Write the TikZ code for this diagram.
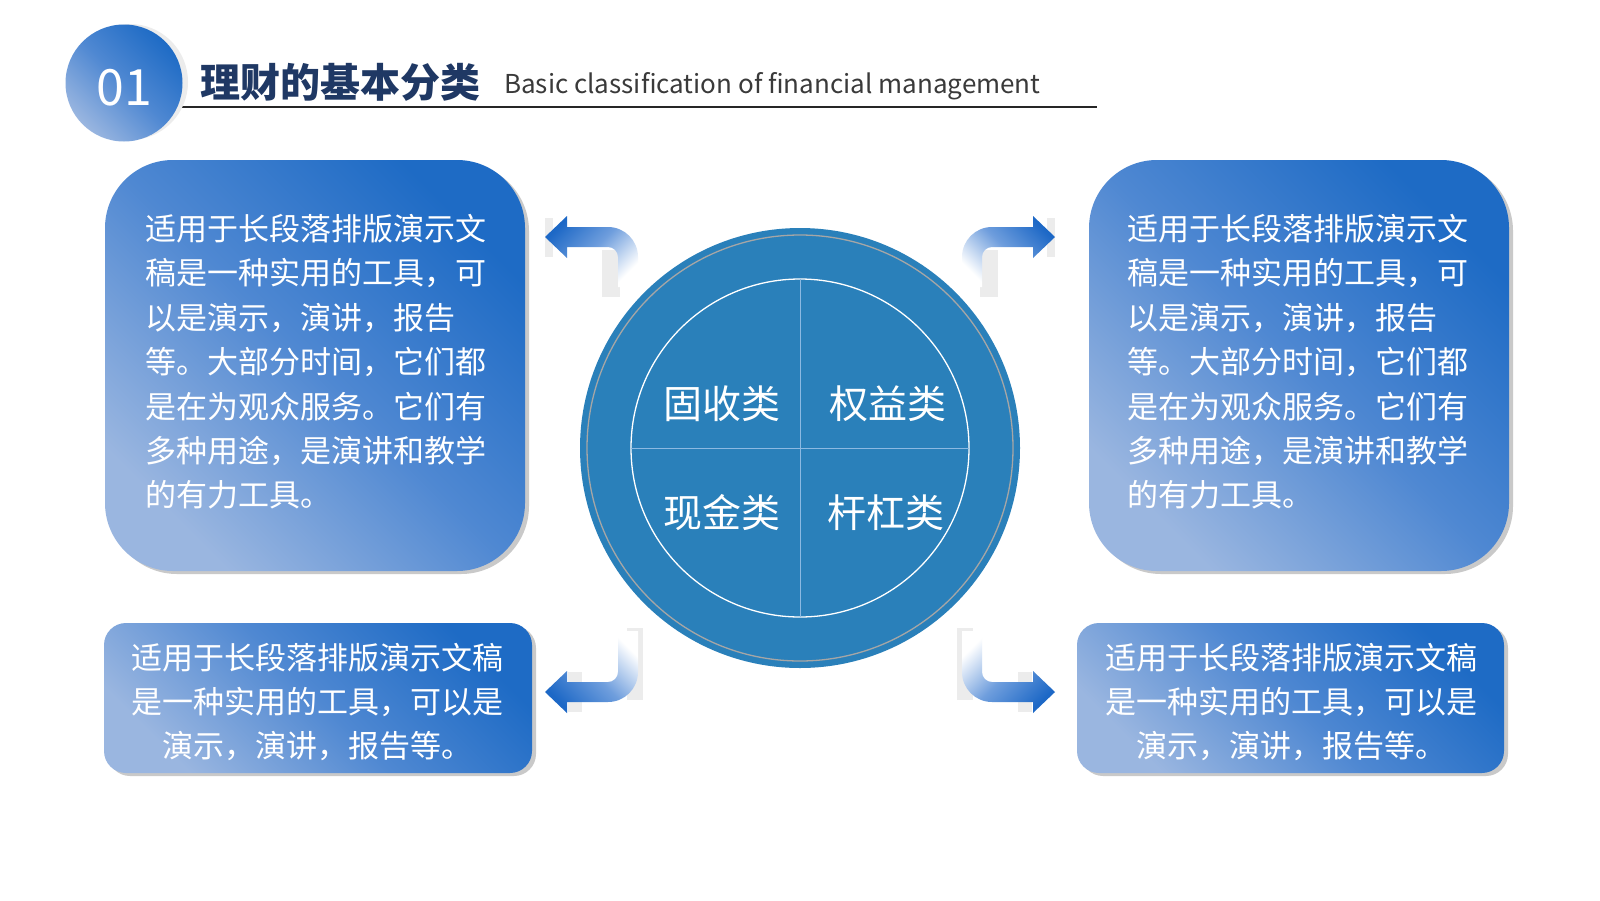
\documentclass[tikz,border=0pt]{standalone}
\usepackage{fontspec}
\setmainfont{Noto Sans CJK SC}
\usetikzlibrary{shadows}
\definecolor{cDark}{HTML}{1E6BC5}
\definecolor{cMid}{HTML}{4F88D2}
\definecolor{cLight}{HTML}{9AB6E0}
\definecolor{cCirc}{HTML}{2A80BA}
\definecolor{cCross}{HTML}{8CB9E2}
\definecolor{cNavy}{HTML}{1F3864}
\definecolor{cSub}{HTML}{3A3A3A}
\definecolor{cShadow}{HTML}{C9C9C9}
\definecolor{cBack}{HTML}{ECECEC}
\definecolor{aDark}{HTML}{1D68C6}
\definecolor{aMid}{HTML}{6F9EDD}
\begin{document}
\begin{tikzpicture}[x=1pt,y=-1pt,
  bigbox/.style={shape=rectangle, rounded corners=68pt, inner sep=0pt,
    top color=cDark, bottom color=cLight, middle color=cMid, shading angle=-45,
    general shadow={fill=cShadow, shadow xshift=4pt, shadow yshift=-3pt}},
  smallbox/.style={bigbox, rounded corners=22pt},
  para/.style={inner sep=0pt, text=white, font=\fontsize{31pt}{44.4pt}\selectfont},
  quad/.style={inner sep=0pt, text=white, font=\fontsize{39pt}{39pt}\selectfont},
  crossline/.style={draw=cCross, line width=1pt},
  backpiece/.style={fill=cBack},
  arrTL/.style={top color=aDark, bottom color=white, middle color=aMid, shading angle=45},
  arrTR/.style={top color=aDark, bottom color=white, middle color=aMid, shading angle=-45},
  arrBL/.style={top color=aDark, bottom color=white, middle color=aMid, shading angle=135},
  arrBR/.style={top color=aDark, bottom color=white, middle color=aMid, shading angle=-135},
]
\useasboundingbox (0,0) rectangle (1600,900);
\fill[white] (0,0) rectangle (1600,900);

% ---------- header ----------
\coordinate (la) at (180,107);
\coordinate (lb) at (1097,107);
\draw[line width=1.5pt, draw=black!85] (la) -- (lb);
\fill[cBack] (130,82) circle[radius=58pt];
\node[circle, minimum size=117pt, inner sep=0pt, top color=cDark, bottom color=cLight,
  middle color=cMid, shading angle=-45] (hc) at (124,83) {};
\node[anchor=base, inner sep=0pt, text=white, font=\fontsize{50pt}{50pt}\selectfont] (n01) at (124,105) {01};
\node[anchor=base west, inner sep=0pt, text=cNavy, font=\bfseries\fontsize{40pt}{40pt}\selectfont] (title) at (200,97) {理财的基本分类};
\node[anchor=base west, inner sep=0pt, text=cSub, font=\fontsize{26pt}{26pt}\selectfont] (sub) at (504,93) {Basic classification of financial management};

% ---------- boxes ----------
\node[bigbox, minimum width=420pt, minimum height=411pt] (b1) at (315,365.5) {};
\node[bigbox, minimum width=420pt, minimum height=411pt] (b2) at (1299,365.5) {};
\node[smallbox, minimum width=428pt, minimum height=150pt] (b3) at (318,698) {};
\node[smallbox, minimum width=427pt, minimum height=150pt] (b4) at (1290.5,698) {};

\node[para, align=left, anchor=north west] (t1) at (145,214) {适用于长段落排版演示文\\稿是一种实用的工具，可\\以是演示，演讲，报告\\等。大部分时间，它们都\\是在为观众服务。它们有\\多种用途，是演讲和教学\\的有力工具。};
\node[para, align=left, anchor=north west] (t2) at (1127,214) {适用于长段落排版演示文\\稿是一种实用的工具，可\\以是演示，演讲，报告\\等。大部分时间，它们都\\是在为观众服务。它们有\\多种用途，是演讲和教学\\的有力工具。};
\node[para, align=center] (t3) at (317,702) {适用于长段落排版演示文稿\\是一种实用的工具，可以是\\演示，演讲，报告等。};
\node[para, align=center] (t4) at (1291,702) {适用于长段落排版演示文稿\\是一种实用的工具，可以是\\演示，演讲，报告等。};

% ---------- central circle ----------
\node[circle, fill=cCirc, minimum size=440pt, inner sep=0pt] (c) at (800,448) {};
\draw[draw=black!35, line width=1.3pt] (c.center) circle[radius=213pt];
\draw[draw=white, line width=1.3pt] (c.center) circle[radius=169pt];
\draw[crossline] ([xshift=-169pt]c.center) -- ([xshift=169pt]c.center);
\draw[crossline] ([yshift=-169pt]c.center) -- ([yshift=169pt]c.center);
\node[quad] (q1) at (722,404) {固收类};
\node[quad] (q2) at (888,404) {权益类};
\node[quad] (q3) at (722,513) {现金类};
\node[quad] (q4) at (886,513) {杆杠类};

% ---------- arrows ----------
% top left
\fill[backpiece] (602,250) rectangle (620,297);
\fill[backpiece] (545,218) rectangle (553,257);
\path[arrTL] (545,237) -- (567,216) -- (567,227) -- (608,227) .. controls (624.6,227) and (638,240.4) .. (638,257) -- (638,287) -- (618,287) -- (618,257) .. controls (618,251.5) and (613.5,247) .. (608,247) -- (567,247) -- (567,258) -- cycle;
% top right
\fill[backpiece] (980,250) rectangle (998,297);
\fill[backpiece] (1047,218) rectangle (1055,257);
\path[arrTR] (1055,237) -- (1033,216) -- (1033,227) -- (992,227) .. controls (975.4,227) and (962,240.4) .. (962,257) -- (962,287) -- (982,287) -- (982,257) .. controls (982,251.5) and (986.5,247) .. (992,247) -- (1033,247) -- (1033,258) -- cycle;
% bottom left
\fill[backpiece] (627,628) rectangle (643,700);
\fill[backpiece] (568,672) rectangle (582,712);
\path[arrBL] (545,692) -- (567,713) -- (567,702) -- (608,702) .. controls (624.6,702) and (638,688.6) .. (638,672) -- (638,631) -- (618,631) -- (618,672) .. controls (618,677.5) and (613.5,682) .. (608,682) -- (567,682) -- (567,671) -- cycle;
% bottom right
\fill[backpiece] (957,628) rectangle (973,700);
\fill[backpiece] (1018,672) rectangle (1032,712);
\path[arrBR] (1055,692) -- (1033,713) -- (1033,702) -- (992,702) .. controls (975.4,702) and (962,688.6) .. (962,672) -- (962,631) -- (982,631) -- (982,672) .. controls (982,677.5) and (986.5,682) .. (992,682) -- (1033,682) -- (1033,671) -- cycle;
\end{tikzpicture}
\end{document}
